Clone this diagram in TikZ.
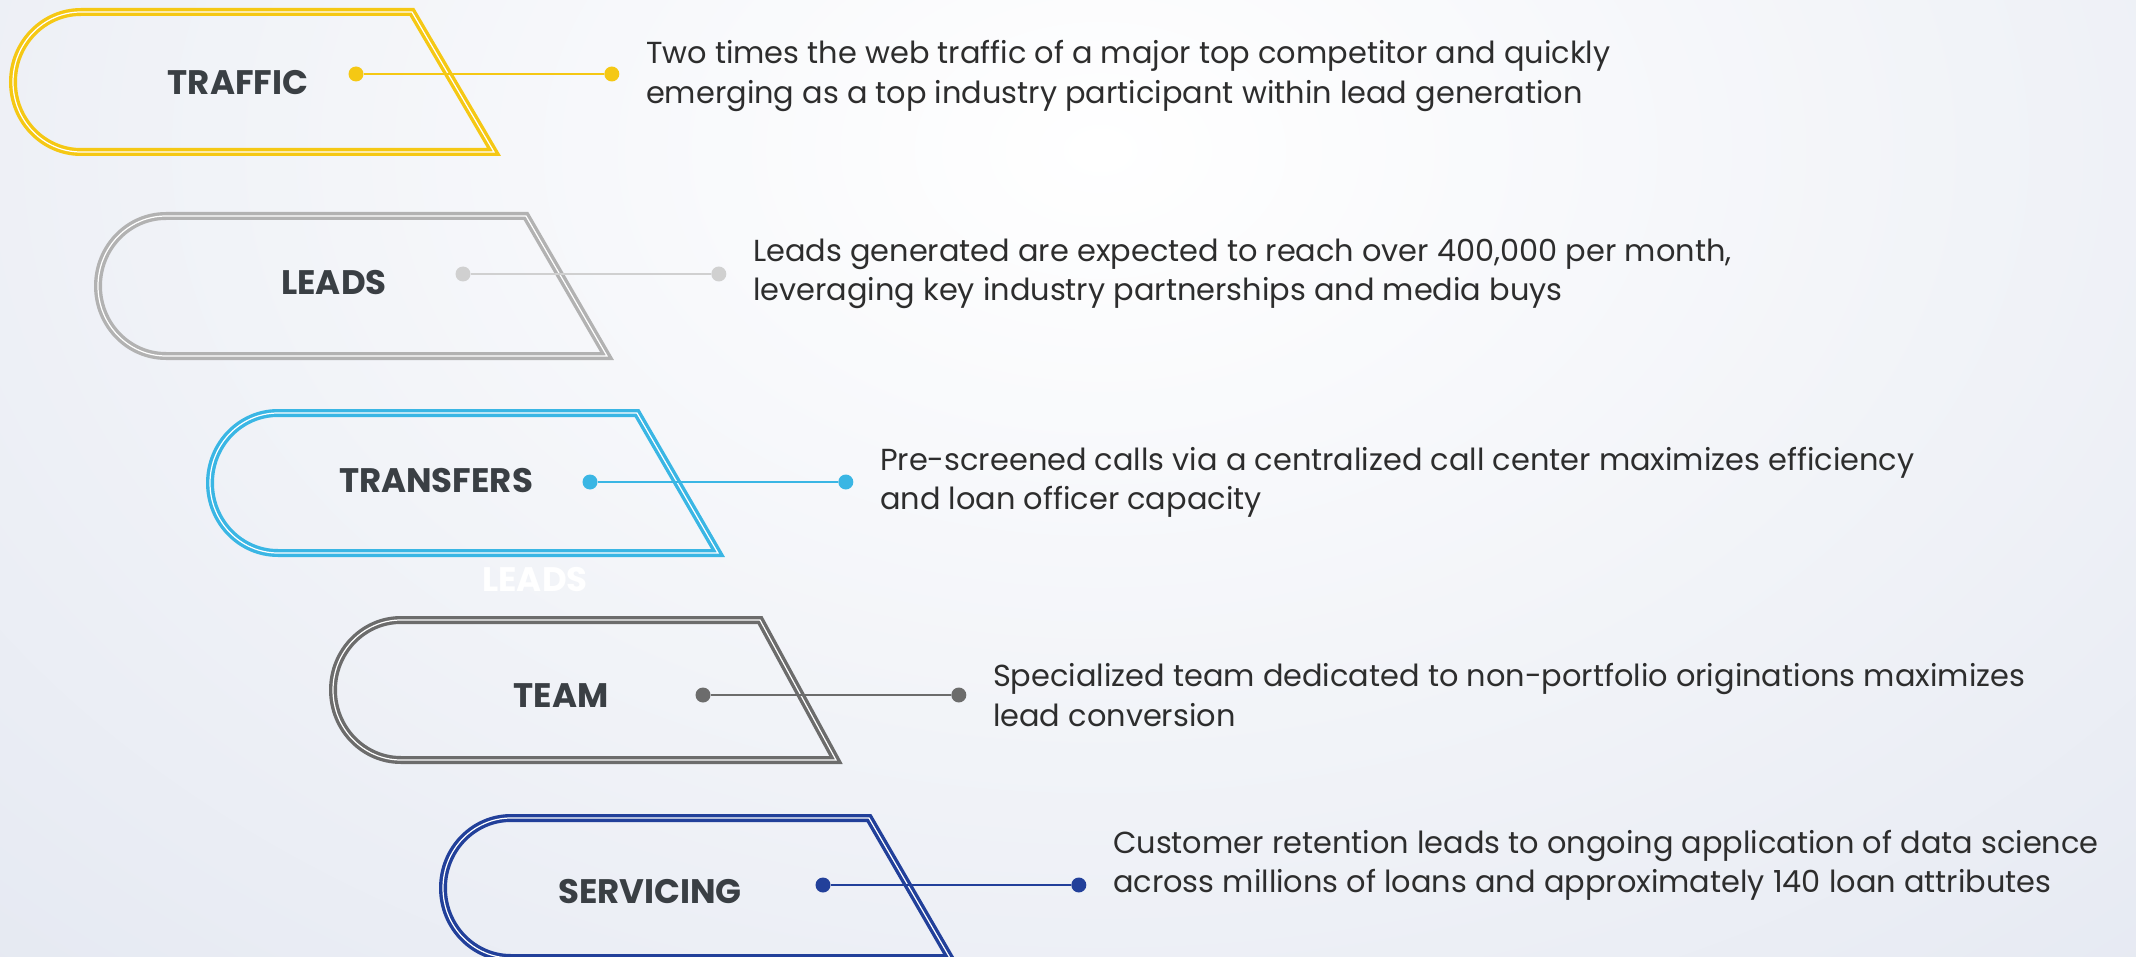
\documentclass[tikz,border=0pt]{standalone}
\usepackage{fontspec}
\setmainfont{Poppins}
\usetikzlibrary{positioning}
\definecolor{bgEdge}{RGB}{214,220,234}
\definecolor{stageYellow}{RGB}{245,200,20}
\definecolor{stageSilver}{RGB}{178,178,178}
\definecolor{pinSilver}{RGB}{208,208,208}
\definecolor{stageSky}{RGB}{58,182,228}
\definecolor{stageSlate}{RGB}{108,108,108}
\definecolor{stageNavy}{RGB}{34,64,154}
\definecolor{labelInk}{RGB}{58,63,68}
\definecolor{bodyInk}{RGB}{45,45,45}

\begin{document}
\begin{tikzpicture}[x=0.5pt, y=-0.5pt,
  tab/.style={line width=1.7pt, double=white, double distance=0.6pt},
  tag/.style={font=\bfseries\fontsize{17}{20}\selectfont, text=labelInk},
  pin/.style={circle, inner sep=0pt, minimum size=7.5pt},
  link/.style={line width=1.1pt},
  note/.style={font=\fontsize{15.2}{19.6}\selectfont, text=bodyInk, align=left, inner sep=0pt},
]
  \useasboundingbox (0,0) rectangle (2136,957);
  \clip (0,0) rectangle (2136,957);
  \fill[bgEdge] (0,0) rectangle (2136,957);
  \shade[inner color=white, outer color=bgEdge] (1100,150) ellipse (2600 and 1800);

  % traffic
  \draw[tab, draw=stageYellow] (81,12) -- (412,12) -- (494,152) -- (81,152)
    arc[start angle=90, end angle=270, x radius=68, y radius=70] -- cycle;
  \node[tag] (trafficTag) at (238,83) {TRAFFIC};
  \node[pin, fill=stageYellow] (trafficPinA) at (356,74) {};
  \node[pin, fill=stageYellow, right=120pt of trafficPinA] (trafficPinB) {};
  \draw[link, stageYellow] (trafficPinA) -- (trafficPinB);
  \node[note, right=13pt of trafficPinB, yshift=-1pt] (trafficNote)
    {Two times the web traffic of a major top competitor and quickly\\emerging as a top industry participant within lead generation};

  % leads
  \draw[tab, draw=stageSilver] (166,216) -- (526,216) -- (607,356) -- (166,356)
    arc[start angle=90, end angle=270, x radius=68, y radius=70] -- cycle;
  \node[tag] (leadsTag) at (334,283) {LEADS};
  \node[pin, fill=pinSilver] (leadsPinA) at (463,274) {};
  \node[pin, fill=pinSilver, right=120pt of leadsPinA] (leadsPinB) {};
  \draw[link, pinSilver] (leadsPinA) -- (leadsPinB);
  \node[note, right=13pt of leadsPinB] (leadsNote)
    {Leads generated are expected to reach over 400,000 per month,\\leveraging key industry partnerships and media buys};

  % transfers
  \draw[tab, draw=stageSky] (278,413) -- (637,413) -- (718,553) -- (278,553)
    arc[start angle=90, end angle=270, x radius=68, y radius=70] -- cycle;
  \node[tag] (transfersTag) at (436,481) {TRANSFERS};
  \node[tag, text=white] (transfersGhost) at (535,580) {LEADS};
  \node[pin, fill=stageSky] (transfersPinA) at (590,482) {};
  \node[pin, fill=stageSky, right=120pt of transfersPinA] (transfersPinB) {};
  \draw[link, stageSky] (transfersPinA) -- (transfersPinB);
  \node[note, right=13pt of transfersPinB] (transfersNote)
    {Pre-screened calls via a centralized call center maximizes efficiency\\and loan officer capacity};

  % team
  \draw[tab, draw=stageSlate] (401,620) -- (760,620) -- (836,760) -- (401,760)
    arc[start angle=90, end angle=270, x radius=68, y radius=70] -- cycle;
  \node[tag] (teamTag) at (561,696) {TEAM};
  \node[pin, fill=stageSlate] (teamPinA) at (703,695) {};
  \node[pin, fill=stageSlate, right=120pt of teamPinA] (teamPinB) {};
  \draw[link, stageSlate] (teamPinA) -- (teamPinB);
  \node[note, right=13pt of teamPinB] (teamNote)
    {Specialized team dedicated to non-portfolio originations maximizes\\lead conversion};

  % servicing
  \draw[tab, draw=stageNavy] (511,818) -- (869,818) -- (950,958) -- (511,958)
    arc[start angle=90, end angle=270, x radius=68, y radius=70] -- cycle;
  \node[tag] (servicingTag) at (650,892) {SERVICING};
  \node[pin, fill=stageNavy] (servicingPinA) at (823,885) {};
  \node[pin, fill=stageNavy, right=120pt of servicingPinA] (servicingPinB) {};
  \draw[link, stageNavy] (servicingPinA) -- (servicingPinB);
  \node[note, right=13pt of servicingPinB, yshift=10pt] (servicingNote)
    {Customer retention leads to ongoing application of data science\\across millions of loans and approximately 140 loan attributes};
\end{tikzpicture}
\end{document}
